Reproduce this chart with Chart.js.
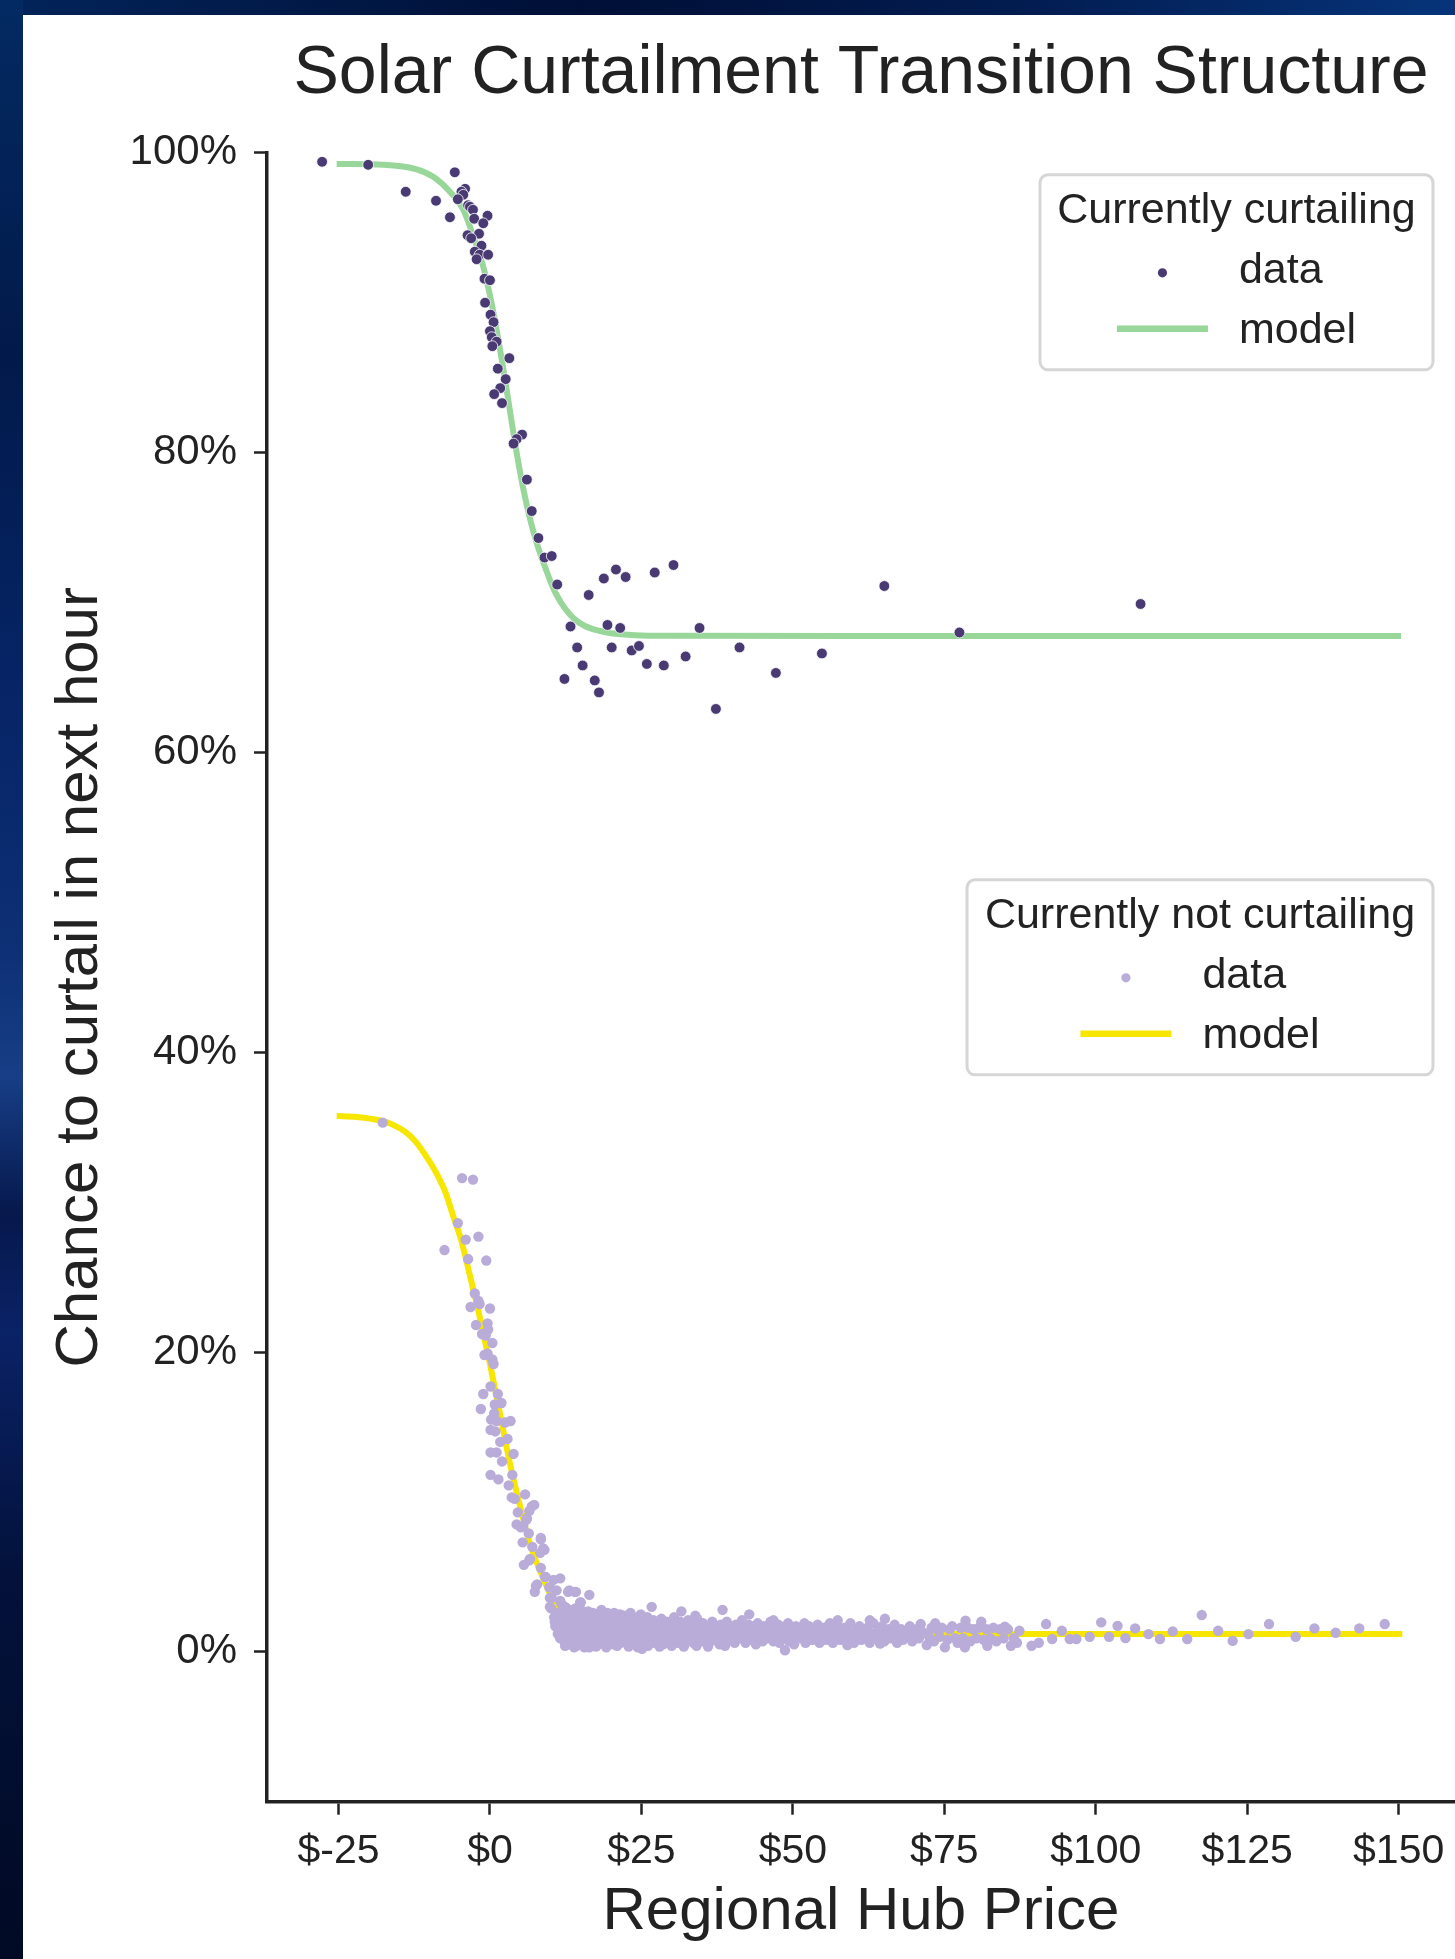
<!DOCTYPE html>
<html>
<head>
<meta charset="utf-8">
<title>Solar Curtailment Transition Structure</title>
<script src="https://cdn.jsdelivr.net/npm/chart.js@4.4.1/dist/chart.umd.min.js"></script>
<style>
  html, body { margin: 0; padding: 0; }
  body {
    width: 1455px;
    height: 1959px;
    overflow: hidden;
    position: relative;
    background: linear-gradient(90deg, #02245a 0%, #000f36 40%, #021c50 70%, #06347a 100%);
  }
  #side {
    position: absolute; left: 0; top: 0; width: 23px; height: 1959px;
    background: linear-gradient(180deg, #032a62 0%, #021a4a 18%, #062466 35%, #0d2f74 48%, #173e86 55%, #06184c 62%, #0a2266 68%, #03123c 80%, #010a24 100%);
  }
  #panel { position: absolute; left: 23px; top: 15px; right: 0; bottom: 0; background: #fff; }
  #c { position: absolute; left: 0; top: 0; }
</style>
</head>
<body>
<div id="side"></div>
<div id="panel"></div>
<canvas id="c" width="1455" height="1959"></canvas>
<script>
// 数据
const titleText = 'Solar Curtailment Transition Structure';
const xTitle = 'Regional Hub Price';
const yTitle = 'Chance to curtail in next hour';
const xTicks = [-25, 0, 25, 50, 75, 100, 125, 150];
const yTicks = [0, 20, 40, 60, 80, 100];

// 当前正在限电：观测点 [价格, %]
const curtailingData = [
  [-27.7,99.4],[-20.1,99.2],[-13.9,97.4],[-8.9,96.8],[-5.8,98.7],[-6.6,95.7],[-4.1,97.6],[-4.7,97.4],
  [-4.4,97.2],[-5.3,96.9],[-3.6,96.5],[-3.3,96.4],[-2.8,96.2],[-2.6,95.6],[-0.4,95.8],[-1.1,95.3],
  [-1.8,94.6],[-3.7,94.5],[-3.1,94.3],[-1.4,93.8],[-2.5,93.4],[-1.7,93.2],[-0.3,93.2],[-2.2,92.9],
  [-0.9,91.6],[0.0,91.5],[-0.8,90.0],[0.1,89.2],[0.6,88.7],[0.0,88.1],[0.3,87.7],[1.1,87.4],
  [0.4,87.1],[3.2,86.3],[1.3,85.6],[2.6,84.9],[1.7,84.3],[0.7,83.9],[2.0,83.3],[5.3,81.2],
  [4.4,80.9],[3.9,80.6],[6.1,78.2],[6.9,76.1],[8.0,74.3],[9.0,73.0],[10.2,73.1],[11.1,71.2],
  [16.3,70.5],[18.8,71.6],[20.8,72.2],[22.4,71.7],[27.2,72.0],[30.3,72.5],[65.1,71.1],[107.4,69.9],
  [13.3,68.4],[19.4,68.5],[21.5,68.3],[34.6,68.3],[77.5,68.0],[14.4,67.0],[20.1,67.0],[23.4,66.8],
  [24.6,67.1],[41.2,67.0],[32.3,66.4],[54.8,66.6],[15.3,65.8],[25.9,65.9],[28.7,65.8],[47.2,65.3],
  [12.3,64.9],[17.3,64.8],[18.0,64.0],[37.3,62.9]
];
// 当前正在限电：模型曲线
const curtailingModel = [
  [-25.3,99.26],[-17.6,99.2],[-12.1,98.9],[-9.35,98.4],[-6.6,97.4],[-4.4,96.2],[-2.8,94.5],[-1.1,92.4],
  [0.0,90.5],[1.1,88.2],[2.2,85.6],[3.3,82.8],[4.4,80.0],[5.5,77.6],[6.6,75.6],[7.7,74.0],
  [8.8,72.7],[9.9,71.5],[11.0,70.5],[12.4,69.6],[13.8,68.95],[15.6,68.45],[17.6,68.15],[20.0,67.95],
  [24.0,67.82],[30.0,67.78],[60.0,67.76],[100.0,67.76],[150.4,67.76]
];

// 当前未限电：观测点
const notCurtailingData = [
  [-17.7,35.3],[-4.6,31.6],[-2.8,31.5],[-5.3,28.6],[-4.0,27.5],[-1.9,27.7],[-7.5,26.8],[-3.6,26.2],
  [-0.6,26.1],[-2.5,23.9],[-1.9,23.4],[-3.2,23.0],[-1.7,23.2],[0.0,22.9],[-2.3,21.8],[-0.4,21.9],
  [-0.3,21.5],[-1.3,21.2],[-0.7,21.1],[0.4,20.6],[-0.9,19.8],[-0.4,19.9],[0.4,19.5],[0.6,19.2],
  [0.1,17.7],[-1.1,17.2],[1.3,17.2],[0.8,16.5],[1.9,16.6],[-1.5,16.2],[0.7,15.9],[0.2,15.5],
  [1.1,15.4],[2.5,15.3],[3.4,15.4],[0.1,14.8],[0.9,14.7],[2.9,14.2],[1.7,14.0],[0.1,13.3],
  [1.1,13.3],[3.9,13.2],[2.0,12.7],[0.1,11.8],[1.4,11.5],[3.7,11.8],[3.1,11.1],[3.6,10.3],
  [4.1,10.2],[5.8,10.5],[4.6,9.3],[6.9,9.7],[6.5,9.4],[7.3,9.8],[6.1,8.9],[6.0,8.8],
  [4.4,8.5],[5.1,8.3],[5.5,8.4],[6.4,7.9],[5.4,7.3],[7.0,7.0],[8.4,7.5],[8.4,7.6],
  [9.0,6.8],[8.8,6.9],[8.3,6.6],[6.5,6.1],[6.6,6.2],[5.6,5.8],[8.4,5.6],[9.1,5.0],
  [9.2,5.0],[11.6,4.9],[10.5,4.8],[7.6,4.4],[7.8,4.5],[7.4,4.0],[9.8,4.3],[9.9,4.3],
  [11.0,4.1],[12.9,4.0],[13.1,4.1],[14.0,4.0],[14.2,4.0],[16.4,3.8],[9.9,3.6],[10.2,3.6],
  [11.6,3.4],[14.9,3.3],[15.0,3.3],[10.1,2.9],[11.8,3.2],[12.4,3.0],[12.7,2.9],[9.9,3.0],
  [10.7,2.0],[11.0,2.0],[26.7,3.0],[31.6,2.7],[33.9,2.4],[38.4,2.8],[42.8,2.5],[46.8,2.1],
  [57.4,2.1],[62.7,2.1],[65.2,2.2],[71.1,1.85],[73.5,1.9],[78.5,2.07],[81.1,2.0],[85.0,1.67],
  [87.4,1.4],
  // 低价段密集带
  [10.6,2.3],[10.8,1.7],[11.0,2.0],[11.2,1.2],[11.3,2.6],[11.5,1.5],[11.6,0.9],[11.8,2.2],
  [11.9,1.8],[12.1,1.1],[12.2,2.5],[12.3,0.7],[12.5,1.6],[12.6,2.0],[12.8,0.5],[12.9,1.3],
  [13.0,2.3],[13.2,0.9],[13.3,1.8],[13.5,2.6],[13.6,0.6],[13.7,1.4],[13.9,2.1],[14.0,1.0],
  [14.2,1.7],[14.3,0.4],[14.5,2.4],[14.6,1.2],[14.8,0.8],[14.9,1.9],[15.1,1.5],[15.2,2.2],
  [15.4,0.6],[15.5,1.1],[15.7,2.6],[15.8,1.6],[16.0,0.9],[16.1,2.0],[16.3,1.3],[16.5,0.5],
  [16.6,1.8],[16.8,2.3],[16.9,1.0],[17.1,1.5],[17.2,0.7],[17.4,2.1],[17.6,1.2],[17.7,1.9],
  [17.9,0.5],[18.0,2.5],[18.2,1.4],[18.3,0.9],[18.5,1.7],[18.7,2.2],[18.8,1.1],[19.0,0.6],
  [19.1,1.6],[19.3,2.0],[19.5,1.3],[19.6,0.8],[19.8,2.4],[19.9,1.5],
  [20.1,1.0],[20.3,1.8],[20.4,0.5],[20.6,2.2],[20.8,1.3],[20.9,0.8],[21.1,1.6],[21.3,2.0],
  [21.4,1.1],[21.6,0.6],[21.8,1.9],[21.9,1.4],[22.1,2.4],[22.3,0.9],[22.4,1.5],[22.6,1.1],
  [22.8,2.1],[23.0,0.6],[23.1,1.7],[23.3,1.3],[23.5,0.9],[23.6,2.3],[23.8,1.5],[24.0,0.7],
  [24.1,1.9],[24.3,1.2],[24.5,2.2],[24.6,0.5],[24.8,1.6],[25.0,1.0],[25.1,2.0],[25.3,1.4],
  [25.5,0.7],[25.7,1.8],[25.8,1.1],[26.0,2.3],[26.2,0.6],[26.3,1.5],[26.5,1.9],[26.7,0.9],
  [26.9,1.3],[27.0,2.1],[27.2,0.6],[27.4,1.6],[27.6,1.1],[27.8,1.9],[27.9,0.8],[28.1,1.4],
  [28.3,2.2],[28.5,1.0],[28.6,0.5],[28.8,1.7],[29.0,1.2],[29.2,2.0],[29.3,0.8],[29.5,1.5],
  [29.7,1.1],[29.9,1.9],[30.1,0.7],[30.3,1.4],[30.4,2.3],[30.6,1.0],[30.8,1.7],[31.0,0.6],
  [31.2,1.3],[31.4,2.0],[31.5,0.9],[31.7,1.6],[31.9,1.2],[32.1,0.5],[32.3,1.8],[32.5,1.1],
  [32.7,2.1],[32.8,0.8],[33.0,1.5],[33.2,1.0],[33.4,1.9],[33.6,0.6],[33.8,1.4],[34.0,1.1],
  [34.2,2.2],[34.4,0.8],[34.6,1.6],[34.8,1.2],
  [12.0,2.8],[13.1,2.7],[14.1,2.9],[15.0,2.8],[16.2,2.7],[17.0,2.6],[18.4,2.8],[19.4,2.6],
  [20.5,2.6],[21.5,2.5],[23.2,2.6],[24.9,2.5],[12.4,0.4],[13.9,0.3],[15.6,0.3],[17.5,0.35],
  [19.2,0.3],[21.0,0.4],[22.9,0.35],[24.4,0.3],[26.1,0.4],[28.0,0.35],[30.0,0.4],[32.0,0.35],
  [34.1,0.4],[36.0,0.35],[38.8,0.4],
  [13.4,1.1],[15.9,1.3],[18.6,0.7],[21.2,1.2],[23.9,1.0],[26.6,1.2],[29.6,0.9],[32.6,1.4],
  [35.4,1.5],[37.8,1.1],[40.8,1.0],[43.6,1.7],[46.6,1.3],[49.6,1.6],[52.6,1.1],[55.6,1.4],[58.8,1.5],
  [35.0,0.7],[35.2,1.9],[35.5,1.3],[35.7,1.0],[35.9,1.7],[36.2,0.6],[36.4,1.4],[36.7,2.0],
  [36.9,1.1],[37.1,0.8],[37.4,1.6],[37.6,1.2],[37.9,0.5],[38.1,1.8],[38.4,1.0],[38.6,1.4],
  [38.9,0.7],[39.1,2.0],[39.4,1.2],[39.6,0.9],[39.9,1.6],[40.1,1.1],[40.4,0.6],[40.6,1.8],
  [40.9,1.3],[41.1,0.9],[41.4,1.5],[41.6,2.1],[41.9,1.0],[42.2,0.6],[42.4,1.4],[42.7,1.8],
  [42.9,1.1],[43.2,0.8],[43.4,1.5],[43.7,1.2],[43.9,0.5],[44.2,1.9],[44.5,1.0],[44.7,1.4],
  [45.0,0.7],[45.2,1.7],[45.5,1.2],[45.8,0.9],[46.0,1.5],[46.3,2.0],[46.5,1.1],[46.8,0.7],
  [47.0,1.4],[47.3,1.0],[47.6,1.8],[47.8,0.6],[48.1,1.3],[48.4,1.6],[48.6,0.9],[48.9,1.2],
  [49.2,1.9],[49.4,0.7],[49.7,1.4],[50.0,1.1],[50.2,0.5],[50.5,1.7],[50.8,1.2],[51.0,0.9],
  [51.3,1.5],[51.6,1.0],[51.9,1.9],[52.1,0.6],[52.4,1.3],[52.7,1.7],[53.0,1.0],[53.2,0.8],
  [53.5,1.4],[53.8,1.1],[54.1,1.8],[54.4,0.6],[54.6,1.3],[54.9,1.0],[55.2,1.6],[55.5,0.8],
  [55.8,1.2],[56.1,1.9],[56.3,1.0],[56.6,0.6],[56.9,1.5],[57.2,1.1],[57.5,1.7],[57.8,0.8],
  [58.1,1.3],[58.4,1.0],[58.6,1.6],[58.9,0.7],[59.2,1.2],[59.5,1.9],[59.8,1.0],
  [60.1,0.6],[60.4,1.4],[60.7,1.1],[61.0,1.7],[61.3,0.8],[61.7,1.3],[62.0,1.0],[62.3,1.6],
  [62.7,0.6],[63.0,1.2],[63.3,1.9],[63.7,0.9],[64.0,1.4],[64.4,1.0],[64.7,1.7],[65.1,0.7],
  [65.4,1.2],[65.8,1.5],[66.1,0.9],[66.5,1.3],[66.8,1.8],[67.2,0.6],[67.5,1.1],[67.9,1.5],
  [68.2,0.8],[68.6,1.3],[68.9,1.0],[69.3,1.7],[69.7,0.7],[70.0,1.2],[70.4,1.5],[70.8,0.9],
  [71.5,1.3],[72.5,1.0],[72.9,1.6],[73.3,0.7],[73.8,1.5],[74.2,1.0],[74.6,1.6],[75.5,0.8],
  [75.9,1.5],[76.3,1.7],[76.8,0.9],[77.2,0.6],[77.7,1.6],[78.1,0.9],[78.9,1.6],[79.3,0.7],
  [79.8,1.5],[80.3,0.9],[80.7,1.6],[81.5,0.8],[82.0,1.5],[82.6,0.9],[83.1,1.6],[83.6,0.7],
  [84.2,1.5],[84.8,0.9],[85.5,1.5],[86.5,0.9],[87.0,0.6],
  // 偏低的点
  [48.7,0.1],[16.4,0.3],[25.1,0.2],[59.0,0.45],[64.4,0.55],[72.1,0.45],[75.1,0.3],[78.4,0.3],
  [82.1,0.4],[86.0,0.4],
  // 高价段稀疏点
  [89.4,0.4],[90.6,0.6],[91.8,1.85],[92.8,0.85],[94.4,1.4],[95.7,0.85],[96.8,0.85],[99.0,1.0],
  [100.9,1.96],[102.2,1.0],[103.6,1.73],[104.9,0.91],[106.5,1.56],[108.7,1.18],[110.6,0.85],[112.7,1.36],
  [115.1,0.85],[117.5,2.45],[120.2,1.4],[122.6,0.73],[125.2,1.18],[128.6,1.85],[133.0,1.0],[136.1,1.56],
  [139.6,1.27],[143.5,1.56],[147.7,1.85]
];
// 当前未限电：模型曲线
const notCurtailingModel = [
  [-25.3,35.74],[-22.0,35.68],[-19.5,35.55],[-17.6,35.4],[-15.8,35.12],[-14.0,34.7],[-12.3,34.05],[-10.6,33.1],
  [-9.07,32.1],[-7.4,30.71],[-6.05,29.05],[-4.7,27.39],[-3.3,25.09],[-1.65,22.28],[0.0,19.21],[1.65,15.89],
  [3.3,12.57],[4.95,9.76],[6.6,7.2],[8.25,5.41],[9.9,3.88],[11.55,2.6],[13.5,1.9],[15.5,1.55],
  [18.0,1.35],[22.0,1.25],[30.0,1.2],[60.0,1.18],[100.0,1.18],[150.6,1.18]
];

const FONT = "'Liberation Sans', Arial, Helvetica, sans-serif";
const INK = '#222222';
const toXY = arr => arr.map(([x, y]) => ({ x: x, y: y }));

// 两个图例框
const legendGroups = [
  { title: 'Currently curtailing', dot: '#4a3a73', line: '#98d69a', top: 22, width: 393 },
  { title: 'Currently not curtailing', dot: '#b9acd8', line: '#f6e600', top: 727, width: 466 }
];

const legendBoxes = {
  id: 'legendBoxes',
  afterDraw(chart) {
    const ctx = chart.ctx;
    const area = chart.chartArea;
    ctx.save();
    legendGroups.forEach(g => {
      const right = area.right - 22;
      const left = right - g.width;
      const top = area.top + g.top;
      const h = 195;
      ctx.beginPath();
      ctx.roundRect(left, top, g.width, h, 8);
      ctx.fillStyle = 'rgba(255,255,255,0.85)';
      ctx.fill();
      ctx.lineWidth = 3;
      ctx.strokeStyle = '#d6d6d6';
      ctx.stroke();

      const cx = left + g.width / 2;
      ctx.font = '43px ' + FONT;
      ctx.fillStyle = INK;
      ctx.textAlign = 'center';
      ctx.textBaseline = 'alphabetic';
      ctx.fillText(g.title, cx, top + 48);

      const textW = Math.max(ctx.measureText('data').width, ctx.measureText('model').width);
      const blockW = 91 + 31 + textW;
      const hx = cx - blockW / 2;
      // data 点
      ctx.beginPath();
      ctx.arc(hx + 45.5, top + 98, 4.6, 0, Math.PI * 2);
      ctx.fillStyle = g.dot;
      ctx.fill();
      // model 线
      ctx.beginPath();
      ctx.moveTo(hx, top + 154);
      ctx.lineTo(hx + 91, top + 154);
      ctx.lineWidth = 6.5;
      ctx.strokeStyle = g.line;
      ctx.stroke();

      ctx.fillStyle = INK;
      ctx.textAlign = 'left';
      ctx.fillText('data', hx + 122, top + 108);
      ctx.fillText('model', hx + 122, top + 168);
    });
    ctx.restore();
  }
};

new Chart(document.getElementById('c'), {
  type: 'scatter',
  data: {
    datasets: [
      {
        label: 'curtailing data',
        data: toXY(curtailingData),
        backgroundColor: '#4a3a73',
        borderColor: '#ffffff',
        borderWidth: 0.8,
        pointRadius: 5.4,
        order: 0
      },
      {
        label: 'not curtailing data',
        data: toXY(notCurtailingData),
        backgroundColor: '#b9acd8',
        borderWidth: 0,
        pointRadius: 5.2,
        order: 0
      },
      {
        type: 'line',
        label: 'curtailing model',
        data: toXY(curtailingModel),
        borderColor: '#98d69a',
        borderWidth: 6,
        pointRadius: 0,
        cubicInterpolationMode: 'monotone',
        fill: false,
        order: 1
      },
      {
        type: 'line',
        label: 'not curtailing model',
        data: toXY(notCurtailingModel),
        borderColor: '#f6e600',
        borderWidth: 6,
        pointRadius: 0,
        cubicInterpolationMode: 'monotone',
        fill: false,
        order: 1
      }
    ]
  },
  options: {
    responsive: false,
    animation: false,
    devicePixelRatio: 1,
    layout: { padding: 0, autoPadding: false },
    plugins: {
      legend: { display: false },
      tooltip: { enabled: false },
      title: {
        display: true,
        text: titleText,
        fullSize: false,
        color: INK,
        font: { family: FONT, size: 68, weight: 'normal', lineHeight: 1.2 },
        padding: { top: 33.2, bottom: 38 }
      }
    },
    scales: {
      x: {
        type: 'linear',
        min: -36.8,
        max: 159.3,
        afterBuildTicks: s => { s.ticks = xTicks.map(v => ({ value: v })); },
        afterFit: s => { s.height = 157.3; s.paddingLeft = 0; s.paddingRight = 0; },
        grid: { display: true, drawOnChartArea: false, drawTicks: true, tickLength: 13, tickWidth: 2.5, tickColor: INK },
        border: { display: true, color: INK, width: 3.5 },
        ticks: {
          color: INK,
          padding: 12,
          maxRotation: 0,
          font: { family: FONT, size: 41 },
          callback: v => '$' + v
        },
        title: {
          display: true,
          text: xTitle,
          color: INK,
          font: { family: FONT, size: 60, lineHeight: 1.2 },
          padding: { top: 0, bottom: 11 }
        }
      },
      y: {
        type: 'linear',
        min: -10,
        max: 100,
        afterBuildTicks: s => { s.ticks = yTicks.map(v => ({ value: v })); },
        afterFit: s => { s.width = 267; },
        grid: { display: true, drawOnChartArea: false, drawTicks: true, tickLength: 13, tickWidth: 2.5, tickColor: INK },
        border: { display: true, color: INK, width: 3.5 },
        ticks: {
          color: INK,
          padding: 17,
          font: { family: FONT, size: 42 },
          callback: v => v + '%'
        },
        title: {
          display: true,
          text: yTitle,
          color: INK,
          font: { family: FONT, size: 60, lineHeight: 1.2 },
          padding: { top: 44, bottom: 0 }
        }
      }
    }
  },
  plugins: [legendBoxes]
});
</script>
</body>
</html>
